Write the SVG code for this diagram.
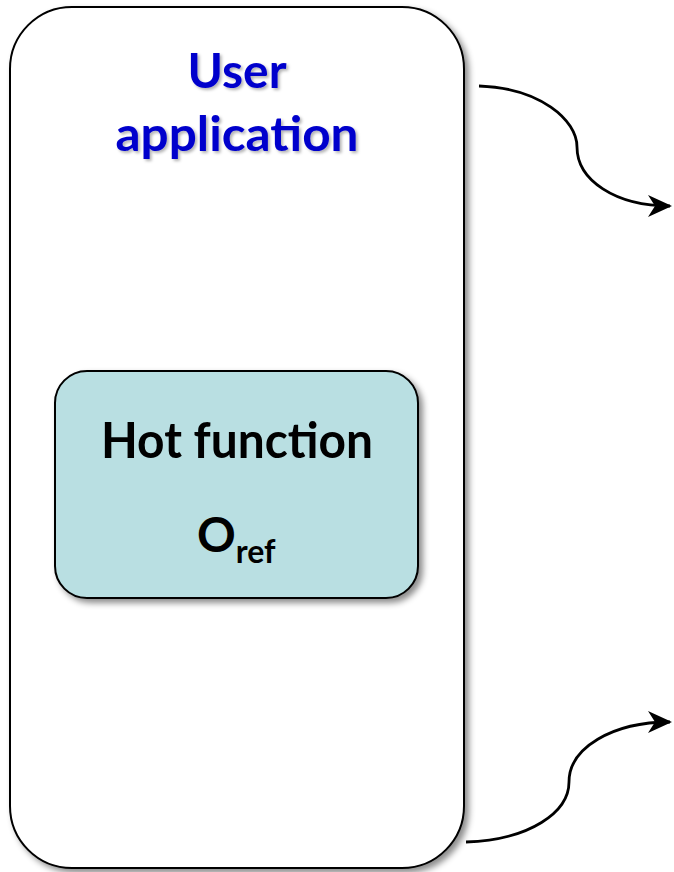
<svg xmlns="http://www.w3.org/2000/svg" width="674" height="872" viewBox="0 0 674 872">
<style>
.t{font-family:Lato,"Open Sans","Liberation Sans",sans-serif;font-weight:bold;text-anchor:middle}
.conn{fill:none;stroke:#000;stroke-width:2.8}
</style>
<defs>
<filter id="sh" x="-10%" y="-10%" width="130%" height="130%">
<feDropShadow dx="4" dy="4" stdDeviation="3" flood-color="#000" flood-opacity="0.45"/>
</filter>
<filter id="tsh" x="-10%" y="-10%" width="130%" height="140%">
<feDropShadow dx="2" dy="2" stdDeviation="1.5" flood-color="#000" flood-opacity="0.3"/>
</filter>
<marker id="ah" viewBox="0 0 24 22" refX="22" refY="11" markerWidth="24" markerHeight="22" markerUnits="userSpaceOnUse" orient="auto">
<path d="M0,0 L24,11 L0,22 L7,11 Z" fill="#000"/>
</marker>
</defs>
<g id="user-application">
<rect x="10" y="7" width="454" height="861" rx="62" ry="62" fill="#fff" stroke="#000" stroke-width="2" filter="url(#sh)"/>
<g filter="url(#tsh)" fill="#0000CC">
<text class="t" x="237" y="88" font-size="47" textLength="99" lengthAdjust="spacingAndGlyphs">User</text>
<text class="t" x="237" y="151" font-size="47" textLength="243" lengthAdjust="spacingAndGlyphs">application</text>
</g>
</g>
<g id="hot-function">
<rect x="55" y="371" width="363" height="227" rx="32" ry="32" fill="#B9DFE2" stroke="#000" stroke-width="2" filter="url(#sh)"/>
<text class="t" x="237" y="458" font-size="50" textLength="272" lengthAdjust="spacingAndGlyphs" fill="#000">Hot function</text>
<text x="197" y="552" font-family="Lato,'Open Sans','Liberation Sans',sans-serif" font-weight="bold" font-size="48" fill="#000">O<tspan font-size="32" dy="11">ref</tspan></text>
</g>
<g id="connectors">
<path class="conn" d="M479,86 C540,88 577,120 577,147 C577,180 615,206 670,206" marker-end="url(#ah)"/>
<path class="conn" d="M466,842 C530,840 569,812 569,782 C569,748 612,722 670,722" marker-end="url(#ah)"/>
</g>
</svg>
